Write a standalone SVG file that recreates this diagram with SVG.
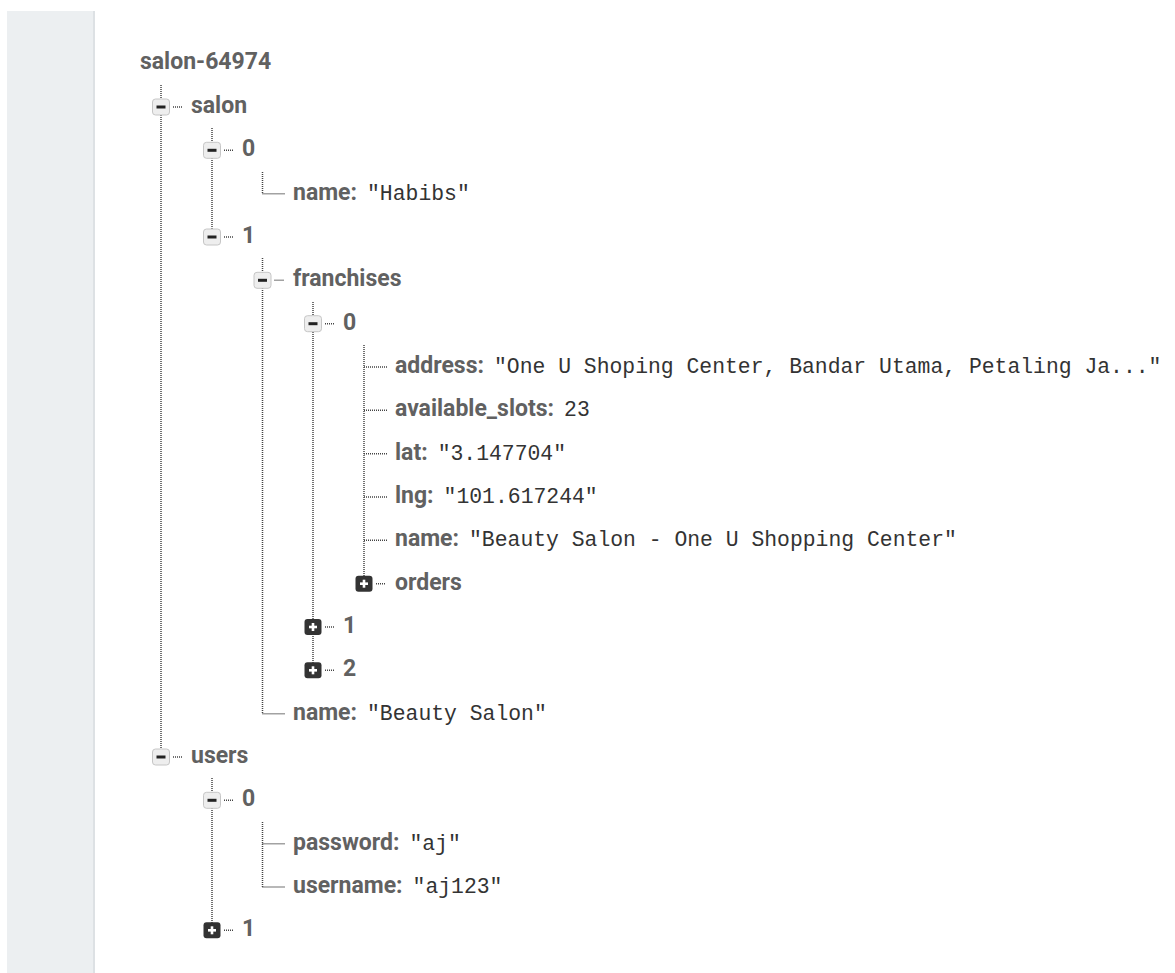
<svg xmlns="http://www.w3.org/2000/svg" xmlns:xlink="http://www.w3.org/1999/xlink" width="1175" height="973" viewBox="0 0 1175 973">
<style>
.k{font-family:Roboto,"Liberation Sans",sans-serif;font-weight:700;font-size:23px;fill:#616161}
.v{font-family:"Liberation Mono","DejaVu Sans Mono",monospace;font-weight:400;font-size:21.4px;fill:#333333}
.dl{stroke:#444444;stroke-width:1.5;stroke-dasharray:1 1;fill:none}
</style>
<defs>
<g id="minus">
<rect x="-8.5" y="-8" width="17" height="16" rx="3" fill="#eeeeee" stroke="#c6c6c6" stroke-width="1"/>
<rect x="-4.5" y="-1.5" width="9" height="3" fill="#222222"/>
</g>
<g id="plus">
<rect x="-8.5" y="-8" width="17" height="16" rx="3" fill="#333333"/>
<rect x="-4" y="-1.3" width="8" height="2.6" fill="#ffffff"/>
<rect x="-1.3" y="-4" width="2.6" height="8" fill="#ffffff"/>
</g>
</defs>
<rect x="0" y="0" width="1175" height="973" fill="#ffffff"/>
<rect x="7" y="11" width="88" height="962" fill="#eceff1"/>
<rect x="93" y="11" width="2" height="962" fill="#dde1e4"/>
<text class="k" x="140" y="69">salon-64974</text>
<g id="connectors">
<line class="dl" x1="161" y1="85" x2="161" y2="757"/>
<line class="dl" x1="212" y1="128" x2="212" y2="237"/>
<line class="dl" x1="262.5" y1="172" x2="262.5" y2="193.7"/>
<line class="dl" x1="262.5" y1="258" x2="262.5" y2="713.7"/>
<line class="dl" x1="313" y1="302" x2="313" y2="670.3"/>
<line class="dl" x1="364" y1="345" x2="364" y2="583.7"/>
<line class="dl" x1="212" y1="778" x2="212" y2="930.3"/>
<line class="dl" x1="262.5" y1="822" x2="262.5" y2="887"/>
<line class="dl" x1="173" y1="107" x2="183" y2="107"/>
<line class="dl" x1="224" y1="150.3" x2="234" y2="150.3"/>
<line class="dl" x1="262.5" y1="193.7" x2="285" y2="193.7"/>
<line class="dl" x1="224" y1="237" x2="234" y2="237"/>
<line class="dl" x1="274.5" y1="280.3" x2="284.5" y2="280.3"/>
<line class="dl" x1="325" y1="323.7" x2="335" y2="323.7"/>
<line class="dl" x1="364" y1="367" x2="387" y2="367"/>
<line class="dl" x1="364" y1="410.3" x2="387" y2="410.3"/>
<line class="dl" x1="364" y1="453.7" x2="387" y2="453.7"/>
<line class="dl" x1="364" y1="497" x2="387" y2="497"/>
<line class="dl" x1="364" y1="540.3" x2="387" y2="540.3"/>
<line class="dl" x1="376" y1="583.7" x2="386" y2="583.7"/>
<line class="dl" x1="325" y1="627" x2="335" y2="627"/>
<line class="dl" x1="325" y1="670.3" x2="335" y2="670.3"/>
<line class="dl" x1="262.5" y1="713.7" x2="285" y2="713.7"/>
<line class="dl" x1="173" y1="757" x2="183" y2="757"/>
<line class="dl" x1="224" y1="800.3" x2="234" y2="800.3"/>
<line class="dl" x1="262.5" y1="843.7" x2="285" y2="843.7"/>
<line class="dl" x1="262.5" y1="887" x2="285" y2="887"/>
<line class="dl" x1="224" y1="930.3" x2="234" y2="930.3"/>
</g>
<g id="n-salon"><use xlink:href="#minus" x="161" y="107"/><text class="k" x="191" y="113">salon</text></g>
<g id="n-salon-0"><use xlink:href="#minus" x="212" y="150.3"/><text class="k" x="242" y="156.3">0</text></g>
<g id="n-salon-0-name"><text x="293" y="199.7"><tspan class="k">name:</tspan><tspan class="v" dx="10">"Habibs"</tspan></text></g>
<g id="n-salon-1"><use xlink:href="#minus" x="212" y="237"/><text class="k" x="242" y="243">1</text></g>
<g id="n-franchises"><use xlink:href="#minus" x="262.5" y="280.3"/><text class="k" x="293" y="286.3">franchises</text></g>
<g id="n-fr-0"><use xlink:href="#minus" x="313" y="323.7"/><text class="k" x="343" y="329.7">0</text></g>
<g id="n-address"><text x="395" y="373"><tspan class="k">address:</tspan><tspan class="v" dx="10">"One U Shoping Center, Bandar Utama, Petaling Ja..."</tspan></text></g>
<g id="n-slots"><text x="395" y="416.3"><tspan class="k">available_slots:</tspan><tspan class="v" dx="10">23</tspan></text></g>
<g id="n-lat"><text x="395" y="459.7"><tspan class="k">lat:</tspan><tspan class="v" dx="10">"3.147704"</tspan></text></g>
<g id="n-lng"><text x="395" y="503"><tspan class="k">lng:</tspan><tspan class="v" dx="10">"101.617244"</tspan></text></g>
<g id="n-fr-name"><text x="395" y="546.3"><tspan class="k">name:</tspan><tspan class="v" dx="10">"Beauty Salon - One U Shopping Center"</tspan></text></g>
<g id="n-orders"><use xlink:href="#plus" x="364" y="583.7"/><text class="k" x="395" y="589.7">orders</text></g>
<g id="n-fr-1"><use xlink:href="#plus" x="313" y="627"/><text class="k" x="343" y="633">1</text></g>
<g id="n-fr-2"><use xlink:href="#plus" x="313" y="670.3"/><text class="k" x="343" y="676.3">2</text></g>
<g id="n-salon-1-name"><text x="293" y="719.7"><tspan class="k">name:</tspan><tspan class="v" dx="10">"Beauty Salon"</tspan></text></g>
<g id="n-users"><use xlink:href="#minus" x="161" y="757"/><text class="k" x="191" y="763">users</text></g>
<g id="n-users-0"><use xlink:href="#minus" x="212" y="800.3"/><text class="k" x="242" y="806.3">0</text></g>
<g id="n-password"><text x="293" y="849.7"><tspan class="k">password:</tspan><tspan class="v" dx="10">"aj"</tspan></text></g>
<g id="n-username"><text x="293" y="893"><tspan class="k">username:</tspan><tspan class="v" dx="10">"aj123"</tspan></text></g>
<g id="n-users-1"><use xlink:href="#plus" x="212" y="930.3"/><text class="k" x="242" y="936.3">1</text></g>
</svg>
